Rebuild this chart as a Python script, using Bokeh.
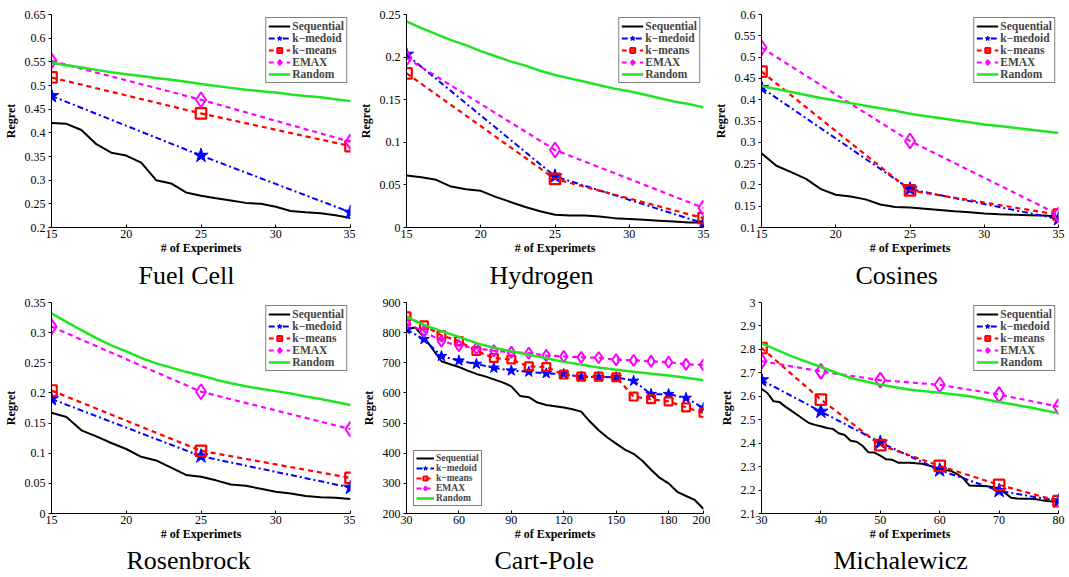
from bokeh.plotting import figure
from bokeh.layouts import gridplot
from bokeh.models import Range1d, FixedTicker, Title
from bokeh.embed import file_html
from bokeh.resources import INLINE

FONT = "Liberation Serif"

# ---------------- data ----------------
# Fuel Cell
fc_seq_x = list(range(15, 36))
fc_seq = [0.421, 0.419, 0.406, 0.376, 0.358, 0.352, 0.337, 0.300, 0.293, 0.274, 0.267,
          0.262, 0.257, 0.252, 0.250, 0.244, 0.235, 0.232, 0.230, 0.226, 0.220]
fc_rand_x = list(range(15, 36))
fc_rand = [0.548, 0.543, 0.538, 0.533, 0.528, 0.524, 0.520, 0.516, 0.512, 0.508, 0.503,
           0.499, 0.495, 0.491, 0.488, 0.485, 0.481, 0.478, 0.475, 0.471, 0.467]
fc_mx = [15, 25, 35]
fc_kmed = [0.478, 0.352, 0.232]
fc_kmeans = [0.517, 0.441, 0.372]
fc_emax = [0.552, 0.470, 0.381]
fc_yticks = [0.2, 0.25, 0.3, 0.35, 0.4, 0.45, 0.5, 0.55, 0.6, 0.65]
fc_ylabels = ["0.2", "0.25", "0.3", "0.35", "0.4", "0.45", "0.5", "0.55", "0.6", "0.65"]

# Hydrogen
hy_seq_x = list(range(15, 36))
hy_seq = [0.061, 0.059, 0.056, 0.048, 0.045, 0.043, 0.036, 0.030, 0.024, 0.019, 0.015,
          0.014, 0.014, 0.013, 0.011, 0.010, 0.009, 0.008, 0.007, 0.006, 0.006]
hy_rand_x = list(range(15, 36))
hy_rand = [0.242, 0.234, 0.227, 0.220, 0.214, 0.207, 0.201, 0.195, 0.190, 0.184, 0.179,
           0.175, 0.171, 0.167, 0.163, 0.160, 0.156, 0.152, 0.148, 0.145, 0.141]
hy_mx = [15, 25, 35]
hy_kmed = [0.203, 0.060, 0.005]
hy_kmeans = [0.181, 0.057, 0.011]
hy_emax = [0.199, 0.091, 0.023]
hy_yticks = [0, 0.05, 0.1, 0.15, 0.2, 0.25]
hy_ylabels = ["0", "0.05", "0.1", "0.15", "0.2", "0.25"]

# Cosines
co_seq_x = list(range(15, 36))
co_seq = [0.274, 0.245, 0.230, 0.214, 0.190, 0.177, 0.173, 0.166, 0.154, 0.148, 0.147,
          0.144, 0.141, 0.138, 0.136, 0.133, 0.131, 0.130, 0.129, 0.128, 0.126]
co_rand_x = list(range(15, 36))
co_rand = [0.432, 0.425, 0.418, 0.411, 0.404, 0.398, 0.392, 0.386, 0.380, 0.374, 0.367,
           0.362, 0.357, 0.352, 0.347, 0.342, 0.338, 0.334, 0.330, 0.326, 0.322]
co_mx = [15, 25, 35]
co_kmed = [0.428, 0.190, 0.120]
co_kmeans = [0.466, 0.187, 0.130]
co_emax = [0.522, 0.303, 0.130]
co_yticks = [0.1, 0.15, 0.2, 0.25, 0.3, 0.35, 0.4, 0.45, 0.5, 0.55, 0.6]
co_ylabels = ["0.1", "0.15", "0.2", "0.25", "0.3", "0.35", "0.4", "0.45", "0.5", "0.55", "0.6"]

# Rosenbrock
ro_seq_x = list(range(15, 36))
ro_seq = [0.167, 0.160, 0.138, 0.128, 0.117, 0.107, 0.094, 0.088, 0.076, 0.064, 0.061,
          0.055, 0.048, 0.046, 0.041, 0.036, 0.033, 0.029, 0.027, 0.026, 0.024]
ro_rand_x = list(range(15, 36))
ro_rand = [0.332, 0.318, 0.304, 0.291, 0.279, 0.269, 0.258, 0.249, 0.242, 0.235, 0.229,
           0.222, 0.216, 0.211, 0.207, 0.203, 0.199, 0.194, 0.190, 0.185, 0.180]
ro_mx = [15, 25, 35]
ro_kmed = [0.190, 0.095, 0.043]
ro_kmeans = [0.204, 0.104, 0.059]
ro_emax = [0.310, 0.202, 0.140]
ro_yticks = [0, 0.05, 0.1, 0.15, 0.2, 0.25, 0.3, 0.35]
ro_ylabels = ["0", "0.05", "0.1", "0.15", "0.2", "0.25", "0.3", "0.35"]

x15_ticks = [15, 20, 25, 30, 35]
x15_labels = ["15", "20", "25", "30", "35"]

# Cart-Pole
cp_seq_x = list(range(30, 201, 5))
cp_seq = [810, 817, 785, 745, 705, 695, 686, 674, 663, 655, 645, 635, 622, 590, 586, 568,
          560, 556, 552, 546, 538, 505, 476, 452, 432, 412, 398, 375, 345, 318, 300, 272,
          258, 245, 215]
cp_rand_x = list(range(30, 201, 10))
cp_rand = [852, 826, 805, 786, 765, 750, 738, 727, 715, 703, 694, 684, 677, 670, 664, 658, 650, 642]
cp_mx = list(range(30, 201, 10))
cp_kmed = [811, 778, 722, 707, 696, 683, 674, 670, 665, 663, 653, 653, 652, 640, 596, 596, 583, 550]
cp_kmeans = [854, 824, 791, 772, 739, 716, 711, 688, 686, 661, 654, 654, 652, 588, 579, 572, 552, 534]
cp_emax = [830, 804, 772, 757, 748, 740, 735, 732, 724, 721, 718, 717, 710, 708, 705, 702, 695, 693]
cp_xticks = [30, 60, 90, 120, 150, 180, 200]
cp_xlabels = ["30", "60", "90", "120", "150", "180", "200"]
cp_yticks = [200, 300, 400, 500, 600, 700, 800, 900]
cp_ylabels = ["200", "300", "400", "500", "600", "700", "800", "900"]

# Michalewicz
mi_seq_x = list(range(30, 81))
mi_seq = [2.632, 2.614, 2.579, 2.576, 2.556, 2.539, 2.521, 2.503, 2.486, 2.478, 2.472,
          2.465, 2.461, 2.442, 2.435, 2.410, 2.406, 2.389, 2.361, 2.360, 2.347, 2.331,
          2.329, 2.317, 2.317, 2.316, 2.314, 2.312, 2.306, 2.299, 2.292, 2.285, 2.281,
          2.267, 2.250, 2.219, 2.218, 2.217, 2.216, 2.212, 2.208, 2.188, 2.167, 2.164,
          2.163, 2.163, 2.162, 2.157, 2.153, 2.151, 2.151]
mi_rand_x = list(range(30, 81, 5))
mi_rand = [2.826, 2.771, 2.725, 2.678, 2.649, 2.628, 2.615, 2.600, 2.576, 2.553, 2.528]
mi_mx = [30, 40, 50, 60, 70, 80]
mi_kmed = [2.669, 2.535, 2.403, 2.285, 2.197, 2.153]
mi_kmeans = [2.806, 2.586, 2.392, 2.303, 2.222, 2.153]
mi_emax = [2.750, 2.706, 2.669, 2.649, 2.607, 2.556]
mi_xticks = [30, 40, 50, 60, 70, 80]
mi_xlabels = ["30", "40", "50", "60", "70", "80"]
mi_yticks = [2.1, 2.2, 2.3, 2.4, 2.5, 2.6, 2.7, 2.8, 2.9, 3.0]
mi_ylabels = ["2.1", "2.2", "2.3", "2.4", "2.5", "2.6", "2.7", "2.8", "2.9", "3"]

series_names = ["Sequential", "k\u2212medoid", "k\u2212means", "EMAX", "Random"]
titles = ["Fuel Cell", "Hydrogen", "Cosines", "Rosenbrock", "Cart-Pole", "Michalewicz"]

GREEN = "#1ee61e"


def panel(title, sx, sy, rx, ry, mx, kmed, kmeans, emax, xr, yr, xt, xl, yt, yl,
          height, top, frame_h, left, right, title_off, legend_loc="top_right", mscale=1.0,
          leg_font="11.5px", leg_row=12, leg_margin=3, leg_glyph=22, title_standoff=2):
    p = figure(width=355, height=height, output_backend="svg", toolbar_location=None,
               x_range=Range1d(*xr), y_range=Range1d(*yr),
               min_border_left=left, min_border_right=right, min_border_top=top,
               min_border_bottom=height - top - frame_h)
    p.outline_line_color = None
    p.xgrid.grid_line_color = None
    p.ygrid.grid_line_color = None
    p.background_fill_color = "white"
    p.border_fill_color = "white"

    p.line(sx, sy, color="black", line_width=2, legend_label=series_names[0])
    p.line(mx, kmed, color="blue", line_width=2, line_dash="6 3 2 3", legend_label=series_names[1])
    p.scatter(mx, kmed, marker="star", size=15 * mscale, fill_color="blue", line_color="blue",
              legend_label=series_names[1])
    p.line(mx, kmeans, color="red", line_width=2.2, line_dash="5 4", legend_label=series_names[2])
    p.scatter(mx, kmeans, marker="square", size=10.5 * mscale, fill_color=None, line_color="red",
              line_width=2.2, legend_label=series_names[2])
    p.line(mx, emax, color="magenta", line_width=2.2, line_dash="5 4", legend_label=series_names[3])
    p.scatter(mx, emax, marker="diamond", size=15 * mscale, fill_color=None, line_color="magenta",
              line_width=2, legend_label=series_names[3])
    p.line(rx, ry, color=GREEN, line_width=2.5, legend_label=series_names[4])

    p.xaxis.ticker = FixedTicker(ticks=xt)
    p.yaxis.ticker = FixedTicker(ticks=yt)
    p.xaxis.major_label_overrides = dict(zip(xt, xl))
    p.yaxis.major_label_overrides = dict(zip(yt, yl))
    p.xaxis.axis_label = "# of Experimets"
    p.yaxis.axis_label = "Regret"
    for ax in (p.xaxis[0], p.yaxis[0]):
        ax.minor_tick_line_color = None
        ax.axis_line_color = "black"
        ax.major_tick_line_color = "black"
        ax.major_label_text_font = FONT
        ax.major_label_text_font_size = "12px"
        ax.major_label_text_color = "black"
        ax.axis_label_text_font = FONT
        ax.axis_label_text_font_size = "12px"
        ax.axis_label_text_font_style = "bold"
        ax.axis_label_text_color = "black"
    p.xaxis.major_tick_in = 3
    p.xaxis.major_tick_out = 0
    p.yaxis.major_tick_in = 0
    p.yaxis.major_tick_out = 3
    p.xaxis.major_label_standoff = 2
    p.xaxis.axis_label_standoff = 0
    p.yaxis.major_label_standoff = 3
    p.yaxis.axis_label_standoff = 4

    lg = p.legend[0]
    lg.location = legend_loc
    lg.border_line_color = "black"
    lg.border_line_width = 1
    lg.background_fill_color = "white"
    lg.background_fill_alpha = 1.0
    lg.label_text_font = FONT
    lg.label_text_font_style = "bold"
    lg.label_text_font_size = leg_font
    lg.glyph_width = leg_glyph
    lg.glyph_height = leg_row
    lg.label_height = leg_row
    lg.spacing = 0
    lg.padding = 2
    lg.margin = leg_margin
    lg.label_standoff = 2

    p.add_layout(Title(text=title, align="left", offset=title_off, standoff=title_standoff,
                       text_font=FONT, text_font_size="26px", text_font_style="normal",
                       text_color="black"), "below")
    return p


TOP_H, BOT_H = 290, 285

p1 = panel(titles[0], fc_seq_x, fc_seq, fc_rand_x, fc_rand, fc_mx, fc_kmed, fc_kmeans, fc_emax,
           (15, 35), (0.2, 0.65), x15_ticks, x15_labels, fc_yticks, fc_ylabels,
           TOP_H, 14, 214, 49, 5, 87)
p2 = panel(titles[1], hy_seq_x, hy_seq, hy_rand_x, hy_rand, hy_mx, hy_kmed, hy_kmeans, hy_emax,
           (15, 35), (0, 0.25), x15_ticks, x15_labels, hy_yticks, hy_ylabels,
           TOP_H, 14, 214, 49, 7, 83)
p3 = panel(titles[2], co_seq_x, co_seq, co_rand_x, co_rand, co_mx, co_kmed, co_kmeans, co_emax,
           (15, 35), (0.1, 0.6), x15_ticks, x15_labels, co_yticks, co_ylabels,
           TOP_H, 14, 214, 48, 7, 94)
p4 = panel(titles[3], ro_seq_x, ro_seq, ro_rand_x, ro_rand, ro_mx, ro_kmed, ro_kmeans, ro_emax,
           (15, 35), (0, 0.35), x15_ticks, x15_labels, ro_yticks, ro_ylabels,
           BOT_H, 12, 215, 48, 5, 75, title_standoff=1)
p5 = panel(titles[4], cp_seq_x, cp_seq, cp_rand_x, cp_rand, cp_mx, cp_kmed, cp_kmeans, cp_emax,
           (30, 200), (200, 900), cp_xticks, cp_xlabels, cp_yticks, cp_ylabels,
           BOT_H, 12, 215, 46, 3, 88,
           legend_loc="bottom_left", mscale=0.75, leg_font="9.5px", leg_row=10, leg_margin=7,
           leg_glyph=18, title_standoff=1)
p6 = panel(titles[5], mi_seq_x, mi_seq, mi_rand_x, mi_rand, mi_mx, mi_kmed, mi_kmeans, mi_emax,
           (30, 80), (2.1, 3.0), mi_xticks, mi_xlabels, mi_yticks, mi_ylabels,
           BOT_H, 12, 215, 45, 5, 72, title_standoff=1)

grid = gridplot([[p1, p2, p3], [p4, p5, p6]], toolbar_location=None)

open("out.html", "w").write(file_html(grid, INLINE))
